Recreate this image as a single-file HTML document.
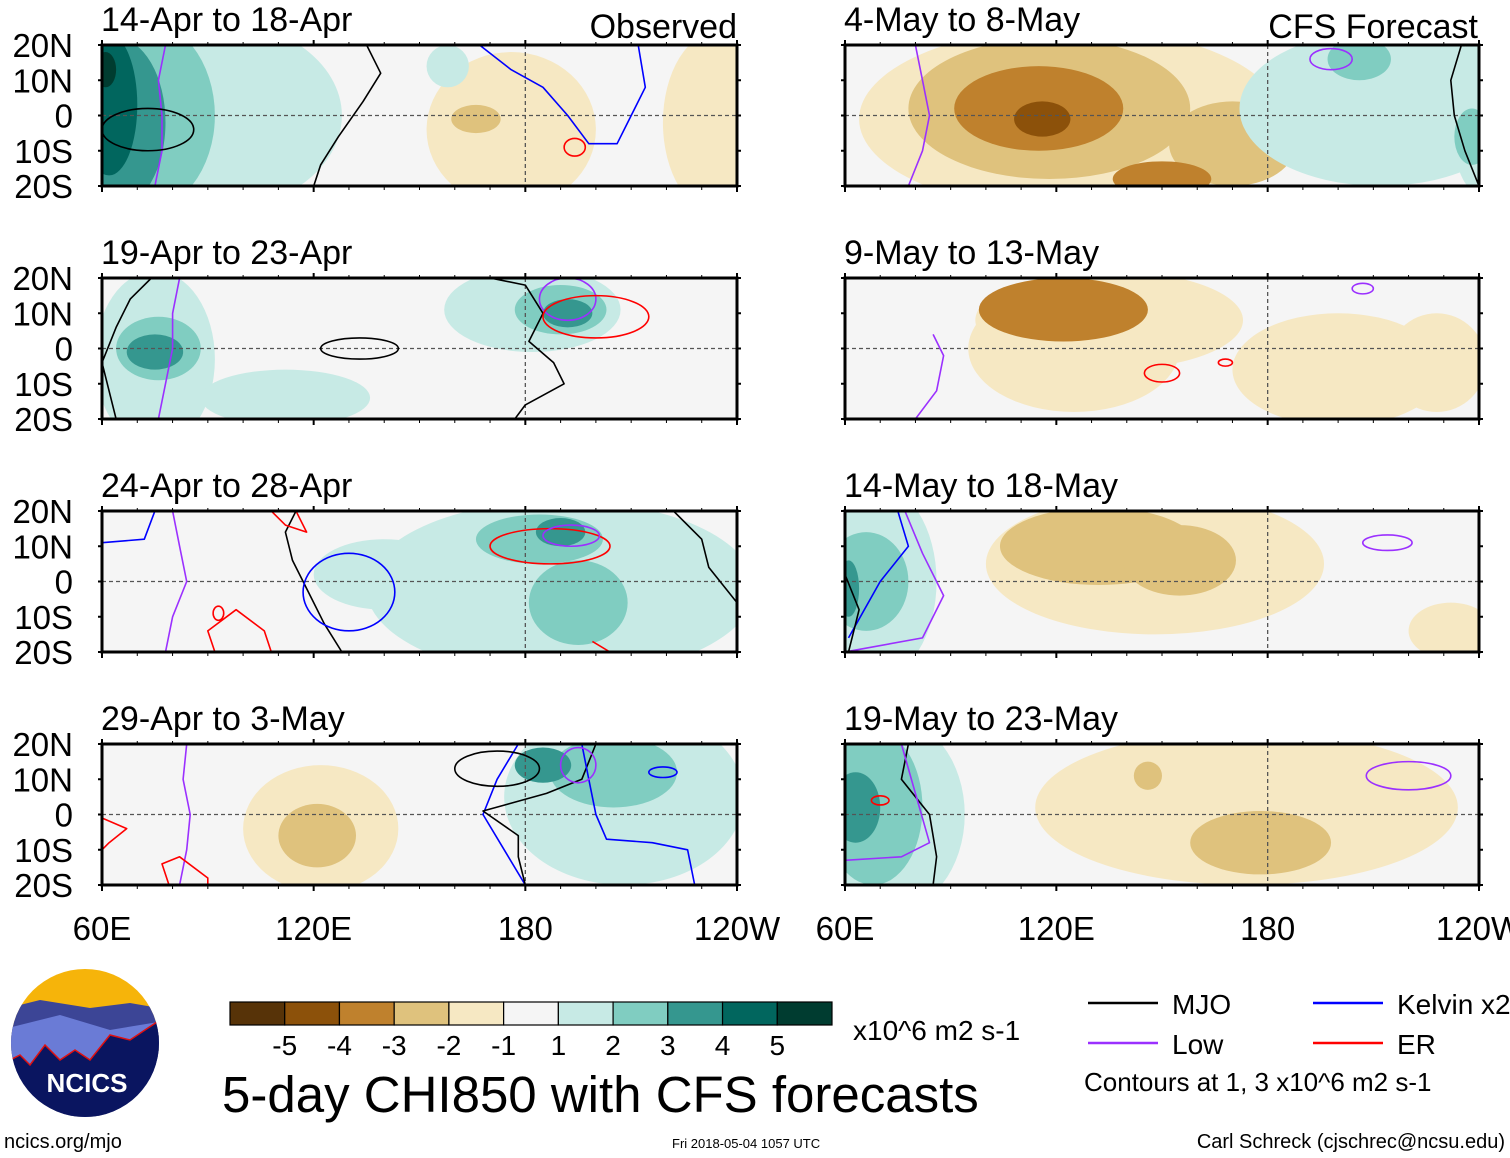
<!DOCTYPE html>
<html><head><meta charset="utf-8">
<style>
body{margin:0;background:#fff;width:1510px;height:1158px;overflow:hidden;font-family:"Liberation Sans",sans-serif}
svg{position:absolute;left:0;top:0}
</style></head><body>
<svg id="s" width="1510" height="1158" font-family="Liberation Sans, sans-serif"></svg>
<script>
const COLORS=["#573308","#8c510a","#bf812d","#dfc27d","#f6e8c3","#f5f5f5","#c7eae5","#80cdc1","#35978f","#01665e","#003c30"];
const barLabels=["-5","-4","-3","-2","-1","1","2","3","4","5"];
const panelTitles=["14-Apr to 18-Apr","19-Apr to 23-Apr","24-Apr to 28-Apr","29-Apr to 3-May","4-May to 8-May","9-May to 13-May","14-May to 18-May","19-May to 23-May"];
const latLabels=["20N","10N","0","10S","20S"];
const lonLabels=["60E","120E","180","120W"];
// blobs: [lon, lat, rLon, rLat, colorIndex]
const blobs=[
[[88,0,40,28,6],[70,0,22,28,7],[64,-2,14,24,8],[62,3,8,20,9],[61,13,3,5,10],[176,-4,24,22,4],[235,-2,16,26,4],[166,-1,7,4,3],[158,14,6,6,6]],
[[75,-3,17,25,6],[112,-14,24,8,6],[76,0,12,9,7],[75,-1,8,5,8],[182,11,25,12,6],[190,11,13,7,7],[192,10,7,4,8]],
[[190,-2,55,25,6],[140,2,20,10,6],[184,12,18,7,7],[190,14,7,4,8],[195,-6,14,12,7]],
[[122,-4,22,18,4],[121,-6,11,9,3],[208,5,34,25,6],[205,12,18,10,7],[185,14,8,5,8]],
[[124,-1,60,26,4],[118,2,40,20,3],[115,2,24,12,2],[116,-1,8,5,1],[170,-8,18,12,3],[150,-18,14,5,2],[212,2,40,22,6],[240,0,8,22,6],[206,16,9,6,7],[238,-6,5,8,7]],
[[135,8,38,14,4],[125,0,30,18,4],[122,11,24,9,2],[200,-6,30,16,4],[228,-4,14,14,4]],
[[148,5,48,20,4],[132,10,28,11,3],[155,6,16,10,3],[68,0,18,28,6],[66,0,12,14,7],[61,-2,3,8,8],[232,-14,12,8,4]],
[[174,2,60,22,4],[178,-8,20,9,3],[146,11,4,4,3],[72,0,22,28,6],[68,2,14,22,7],[63,2,7,10,8]]
];
// contour polylines: [color, [[lon,lat],...]]
const lines=[
[["#000",[[135,20],[139,12],[134,4],[127,-6],[122,-14],[120,-20]]],["#9b30ff",[[78,20],[76,10],[77,0],[77,-10],[75,-20]]],["#0000ff",[[167,20],[176,13],[185,8],[192,0],[198,-8],[206,-8],[210,0],[214,8],[212,20]]]],
[["#000",[[74,20],[68,14],[64,6],[60,-4],[64,-20]]],["#9b30ff",[[82,20],[80,10],[80,0],[78,-10],[76,-20]]],["#000",[[170,20],[180,18],[185,10],[181,2],[188,-4],[191,-10],[180,-16],[177,-20]]]],
[["#0000ff",[[60,11],[72,12],[75,20]]],["#9b30ff",[[80,20],[82,10],[84,0],[80,-10],[78,-20]]],["#000",[[115,20],[112,14],[114,6],[118,-2],[123,-12],[128,-20]]],["#000",[[222,20],[230,12],[232,4],[240,-6]]],["#ff0000",[[108,-20],[106,-14],[98,-8],[90,-14],[92,-20]]],["#ff0000",[[115,20],[118,14],[112,16],[108,20]]],["#ff0000",[[199,-17],[204,-20]]]],
[["#ff0000",[[60,-1],[67,-4],[62,-8],[60,-10]]],["#9b30ff",[[84,20],[83,10],[85,0],[84,-10],[82,-20]]],["#ff0000",[[79,-20],[77,-14],[82,-12],[90,-18],[90,-20]]],["#0000ff",[[178,20],[172,10],[168,0],[174,-10],[180,-20]]],["#000",[[200,20],[196,10],[186,6],[168,1],[178,-6],[178,-12],[180,-20]]],["#0000ff",[[196,20],[198,10],[200,0],[203,-7],[216,-8],[226,-10],[228,-20]]]],
[["#9b30ff",[[80,20],[82,10],[84,0],[82,-10],[78,-20]]],["#000",[[235,20],[232,10],[233,0],[236,-10],[240,-20]]]],
[["#9b30ff",[[80,-20],[86,-12],[88,-2],[85,4]]]],
[["#0000ff",[[75,20],[78,10],[70,0],[61,-16]]],["#9b30ff",[[77,20],[82,8],[88,-4],[82,-16],[60,-20]]],["#000",[[60,2],[64,-8],[61,-20]]]],
[["#000",[[78,20],[76,10],[84,0],[86,-12],[85,-20]]],["#9b30ff",[[76,20],[80,6],[84,-8],[76,-12],[60,-13]]]]
];
// closed contours (ellipses): [color, lon, lat, rLon, rLat]
const rings=[
[["#000",73,-4,13,6],["#ff0000",194,-9,3,2.5]],
[["#000",133,0,11,3],["#9b30ff",192,14,8,6],["#ff0000",200,9,15,6]],
[["#0000ff",130,-3,13,11],["#ff0000",187,10,17,5],["#9b30ff",193,13,8,3],["#ff0000",93,-9,1.5,2]],
[["#000",172,13,12,5],["#9b30ff",195,14,5,5],["#0000ff",219,12,4,1.5]],
[["#9b30ff",198,16,6,3]],
[["#9b30ff",207,17,3,1.5],["#ff0000",168,-4,2,1],["#ff0000",150,-7,5,2.5]],
[["#9b30ff",214,11,7,2.2]],
[["#9b30ff",220,11,12,4],["#ff0000",70,4,2.5,1.3]]
];
const NS="http://www.w3.org/2000/svg";
const svg=document.getElementById('s');
function mk(t,a,p){const e=document.createElementNS(NS,t);for(const k in a)e.setAttribute(k,a[k]);(p||svg).appendChild(e);return e;}
const PX=[102,845],PW=[635,634],PY=[45,278,511,744],PH=141;
for(let i=0;i<8;i++){
  const col=i<4?0:1,row=i%4,x0=PX[col],w=PW[col],y0=PY[row];
  const X=lon=>x0+(lon-60)/180*w, Y=lat=>y0+(20-lat)/40*PH;
  const g=mk('g',{});
  
  
  const clip=mk('clipPath',{id:'c'+i},g);
  mk('rect',{x:x0,y:y0,width:w,height:PH},clip);
  const inner=mk('g',{'clip-path':'url(#c'+i+')'},g);
  mk('rect',{x:x0,y:y0,width:w,height:PH,fill:COLORS[5]},inner);
  blobs[i].forEach(b=>{const e=mk('ellipse',{cx:X(b[0]),cy:Y(b[1]),rx:b[2]/180*w,ry:b[3]/40*PH,fill:COLORS[b[4]]},inner);
    });
  mk('line',{x1:x0,x2:x0+w,y1:Y(0),y2:Y(0),stroke:'#555','stroke-dasharray':'4,3','stroke-width':1.3},inner);
  mk('line',{x1:X(180),x2:X(180),y1:y0,y2:y0+PH,stroke:'#555','stroke-dasharray':'4,3','stroke-width':1.3},inner);
  lines[i].forEach(l=>{let d='';l[1].forEach((p,j)=>{d+=(j?'L':'M')+X(p[0]).toFixed(1)+','+Y(p[1]).toFixed(1);});
    const e=mk('path',{d:d,fill:'none',stroke:l[0],'stroke-width':1.6,'stroke-linejoin':'round'},inner);
    });
  rings[i].forEach(r=>{const e=mk('ellipse',{cx:X(r[1]),cy:Y(r[2]),rx:r[3]/180*w,ry:r[4]/40*PH,fill:'none',stroke:r[0],'stroke-width':1.6},inner);
    });
  mk('rect',{x:x0,y:y0,width:w,height:PH,fill:'none',stroke:'#000','stroke-width':3},g);
  for(let lo=60;lo<=240;lo+=10){const big=(lo-60)%60==0;mk('line',{x1:X(lo),x2:X(lo),y1:y0+PH,y2:y0+PH+(big?6:4),stroke:'#000','stroke-width':big?2:1},g);
    mk('line',{x1:X(lo),x2:X(lo),y1:y0,y2:y0-(big?5:3),stroke:'#000','stroke-width':big?2:1},g);}
  for(let la=-20;la<=20;la+=10){mk('line',{x1:x0-4,x2:x0,y1:Y(la),y2:Y(la),stroke:'#000','stroke-width':2},g);mk('line',{x1:x0+w,x2:x0+w+4,y1:Y(la),y2:Y(la),stroke:'#000','stroke-width':2},g);}
  const t=mk('text',{x:x0-1,y:y0-14,'font-size':34},g);t.textContent=panelTitles[i];
  
  if(col==0){latLabels.forEach((s,j)=>{const e=mk('text',{x:73,y:y0+j*PH/4+12,'font-size':33,'text-anchor':'end'},g);e.textContent=s;
    });}
  if(row==3){lonLabels.forEach((s,j)=>{const e=mk('text',{x:x0+j*w/3,y:y0+PH+55,'font-size':33,'text-anchor':'middle'},g);e.textContent=s;
    });}
}
function txt(x,y,s,fs,name,anchor){const e=mk('text',{x:x,y:y,'font-size':fs,'text-anchor':anchor||'start'});e.textContent=s;
  return e;}
txt(737,38,'Observed',34,'observed-label','end');
txt(1478,38,'CFS Forecast',34,'forecast-label','end');
const cb=mk('g',{});
const bw=602/11;
COLORS.forEach((c,j)=>mk('rect',{x:230+j*bw,y:1002,width:bw,height:23,fill:c,stroke:'#000','stroke-width':1.2},cb));
barLabels.forEach((s,j)=>{const e=mk('text',{x:230+(j+1)*bw,y:1055,'font-size':28,'text-anchor':'middle'},cb);e.textContent=s;});
txt(853,1040,'x10^6 m2 s-1',28,'colorbar-units');
txt(222,1112,'5-day CHI850 with CFS forecasts',51,'main-title');
txt(4,1148,'ncics.org/mjo',20,'site-url');
txt(672,1148,'Fri 2018-05-04 1057 UTC',13,'timestamp');
txt(1505,1148,'Carl Schreck (cjschrec@ncsu.edu)',20,'author','end');
[["#000","MJO",1088,1003],["#0000ff","Kelvin x2",1313,1003],["#9b30ff","Low",1088,1043],["#ff0000","ER",1313,1043]].forEach(l=>{
  const g=mk('g',{});
  mk('line',{x1:l[2],x2:l[2]+70,y1:l[3],y2:l[3],stroke:l[0],'stroke-width':2.5},g);
  const e=mk('text',{x:l[2]+84,y:l[3]+11,'font-size':28},g);e.textContent=l[1];});
txt(1084,1091,'Contours at 1, 3 x10^6 m2 s-1',26,'contour-note');
const lg=mk('g',{});
const lc=mk('clipPath',{id:'lc'},lg);mk('ellipse',{cx:85,cy:1043,rx:74,ry:74},lc);
const li=mk('g',{'clip-path':'url(#lc)'},lg);
mk('rect',{x:0,y:960,width:170,height:170,fill:'#f6b40a'},li);
mk('path',{d:'M0,1010 L40,1000 L90,1008 L130,1003 L170,1010 L170,1130 L0,1130Z',fill:'#3c4596'},li);
mk('path',{d:'M0,1030 L60,1015 L110,1030 L170,1020 L170,1130 L0,1130Z',fill:'#6a7bd6'},li);
mk('path',{d:'M0,1065 L20,1055 L30,1065 L45,1045 L60,1060 L75,1050 L90,1060 L110,1035 L130,1040 L160,1020 L170,1130 L0,1130Z',fill:'#0a1560',stroke:'#e01010','stroke-width':1.5},li);
const lt=mk('text',{x:87,y:1092,'font-size':26,'font-weight':'bold',fill:'#fff','text-anchor':'middle'},lg);lt.textContent='NCICS';
</script>
</body></html>
